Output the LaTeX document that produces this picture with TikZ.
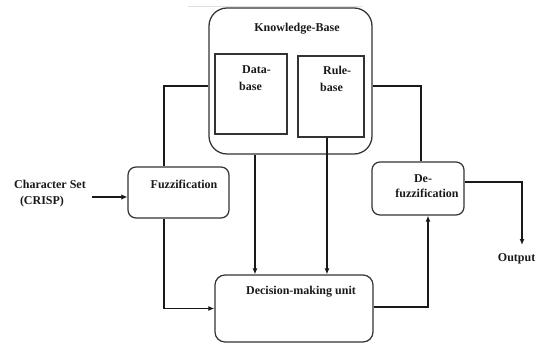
\documentclass[tikz,border=0pt]{standalone}
\usepackage{fontspec}
\setmainfont{Liberation Serif}
\usetikzlibrary{arrows.meta}
\begin{document}
\begin{tikzpicture}[x=1pt,y=-1pt,
  sq/.style={draw=black!80,line width=1.25pt,inner sep=0pt},
  txt/.style={font=\fontsize{12}{13}\selectfont\bfseries,inner sep=0pt,text=black!90},
  conn/.style={line width=1.25pt,black!90},
  arr/.style={conn,-{Latex[length=6pt,width=5pt]}},
  thickarr/.style={line width=1.9pt,black!90,-{Latex[length=6pt,width=5.5pt]}}
]
\useasboundingbox (0,0) rectangle (536,343);
% faint scan line at the top
\draw[black!12,line width=0.6pt] (188,6.5) -- (362,6.5);
% boxes
\node[sq,rounded corners=18pt,minimum width=163pt,minimum height=146pt] (kb) at (290.5,81) {};
\node[sq,minimum width=72pt,minimum height=80pt] (data) at (251,94) {};
\node[sq,minimum width=66pt,minimum height=81pt] (rule) at (331,96.5) {};
\node[sq,rounded corners=8pt,minimum width=101pt,minimum height=51pt] (fuzz) at (178.5,192.5) {};
\node[sq,rounded corners=8pt,minimum width=92pt,minimum height=53pt] (defuzz) at (418,188.5) {};
\node[sq,rounded corners=10pt,minimum width=158pt,minimum height=67pt] (dmu) at (294,308.5) {};
% texts
\node[txt] (kbt) at (297,29) {Knowledge-Base};
\node[txt,anchor=west] (dt1) at (242,70) {Data-};
\node[txt,anchor=west] (dt2) at (239,86) {base};
\node[txt,anchor=west] (rt1) at (323,70) {Rule-};
\node[txt,anchor=west] (rt2) at (320,87) {base};
\node[txt] (ft) at (184,184) {Fuzzification};
\node[txt] (dft1) at (423,179) {De-};
\node[txt] (dft2) at (427,193) {fuzzification};
\node[txt] (dmt) at (301,292) {Decision-making unit};
\node[txt] (cs1) at (50,184) {Character Set};
\node[txt] (cs2) at (42,202) {(CRISP)};
\node[txt,anchor=east] (out) at (535.5,259) {Output};
% connectors
\coordinate (cin) at (92,197);
\coordinate (outtip) at (522,245);
\draw[thickarr] (cin) -- (cin -| fuzz.west);
\draw[conn] ([yshift=-5pt]kb.west) -| ([xshift=-14.5pt]fuzz.north);
\draw[conn] ([yshift=-5pt]kb.east) -| ([xshift=3pt]defuzz.north);
\draw[arr,line width=1.6pt] ([xshift=-14.5pt]fuzz.south) |- (dmu.west);
\draw[arr] ([xshift=-35.5pt]kb.south) -- ([xshift=-35.5pt]kb.south |- dmu.north);
\draw[arr] ([xshift=-4pt]rule.south) -- ([xshift=-4pt]rule.south |- dmu.north);
\draw[arr,line width=1.7pt] ([yshift=1.5pt]dmu.east) -| ([xshift=10pt]defuzz.south);
\draw[arr] ([yshift=6.5pt]defuzz.east) -| (outtip);
\end{tikzpicture}
\end{document}
